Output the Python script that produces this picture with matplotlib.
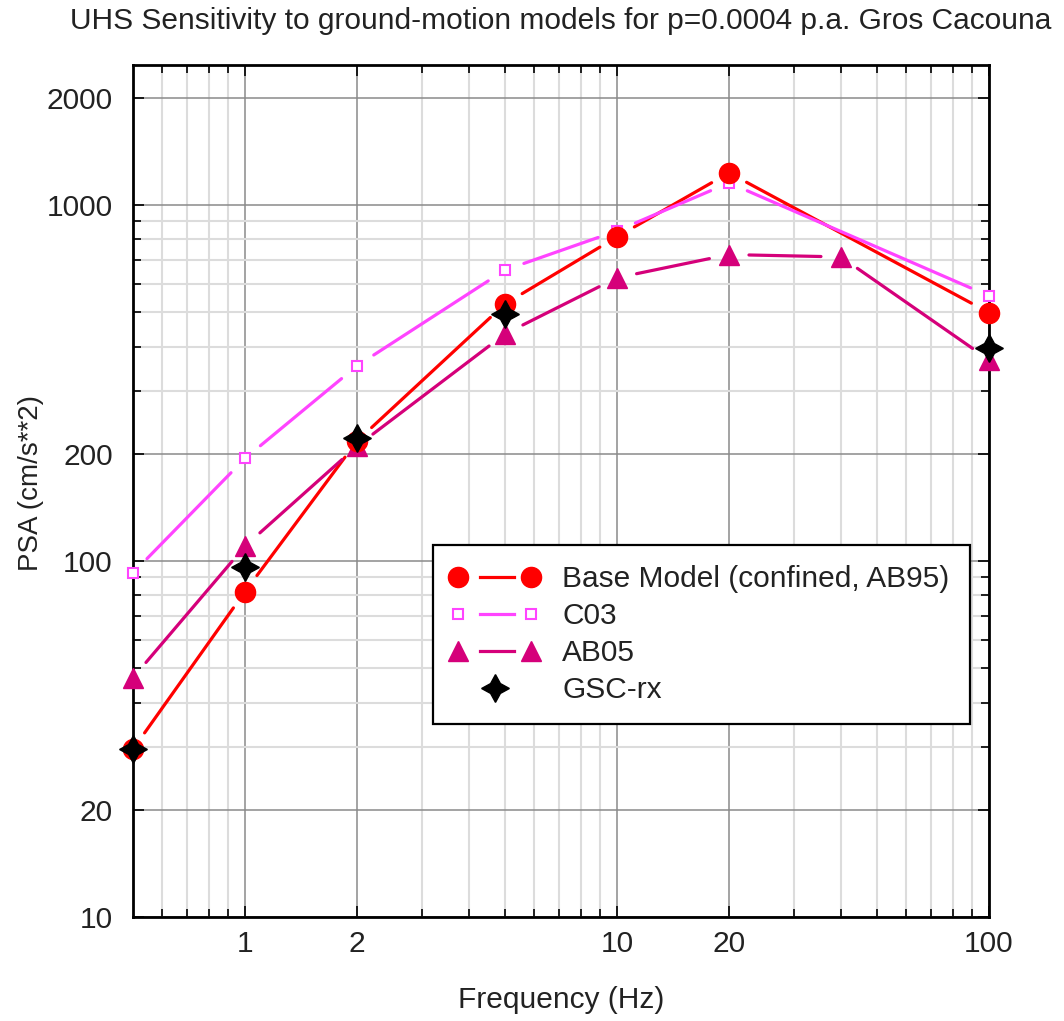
import numpy as np
import matplotlib
matplotlib.use("Agg")
import matplotlib.pyplot as plt
from matplotlib.lines import Line2D
from matplotlib.legend_handler import HandlerBase
from matplotlib.ticker import FixedLocator, NullFormatter, FixedFormatter

plt.rcParams['font.family'] = ['Liberation Sans', 'DejaVu Sans']

# ---------------- data ----------------
title = "UHS Sensitivity to ground-motion models for p=0.0004 p.a. Gros Cacouna"
xlabel = "Frequency (Hz)"
ylabel = "PSA (cm/s**2)"

base_f = [0.5, 1, 2, 5, 10, 20, 100]
base_v = [29.6, 82, 217, 527, 813, 1230, 498]

c03_f = [0.5, 1, 2, 5, 10, 20, 100]
c03_v = [92.5, 194, 353, 656, 845, 1153, 555]

ab05_f = [0.5, 1, 2, 5, 10, 20, 40, 100]
ab05_v = [47, 110, 210, 434, 624, 725, 714, 367]

gsc_f = [0.5, 1, 2, 5, 100]
gsc_v = [29.6, 96, 222, 494, 396]

labels = ["Base Model (confined, AB95)", "C03", "AB05", "GSC-rx"]

x_major = [1, 2, 10, 20, 100]
x_major_labels = ["1", "2", "10", "20", "100"]
x_minor = [0.6, 0.7, 0.8, 0.9, 3, 4, 5, 6, 7, 8, 9, 30, 40, 50, 60, 70, 80, 90]
y_major = [10, 20, 100, 200, 1000, 2000]
y_major_labels = ["10", "20", "100", "200", "1000", "2000"]
y_minor = [30, 40, 50, 60, 70, 80, 90, 300, 400, 500, 600, 700, 800, 900]

# ---------------- styles ----------------
RED = '#ff0000'
MAG = '#ff44ff'
PINK = '#d5007a'
FS = 21.5       # horizontal texts
FSY = 20        # vertical y label
LW = 2.3
GAP = 20        # pixels between marker centre and line end
TXT = '#222222'

W, H = 1064, 1021
fig = plt.figure(figsize=(W / 100, H / 100), dpi=100)
L, R, T, B = 133, 989, 65, 917
ax = fig.add_axes([L / W, 1 - B / H, (R - L) / W, (B - T) / H])
ax.set_xscale('log')
ax.set_yscale('log')
ax.set_xlim(0.5, 100)
ax.set_ylim(10, 2470)

ax.xaxis.set_major_locator(FixedLocator(x_major))
ax.xaxis.set_major_formatter(FixedFormatter(x_major_labels))
ax.xaxis.set_minor_locator(FixedLocator(x_minor))
ax.xaxis.set_minor_formatter(NullFormatter())
ax.yaxis.set_major_locator(FixedLocator(y_major))
ax.yaxis.set_major_formatter(FixedFormatter(y_major_labels))
ax.yaxis.set_minor_locator(FixedLocator(y_minor))
ax.yaxis.set_minor_formatter(NullFormatter())

ax.grid(True, which='major', color='#8a8a8a', lw=1.1, zorder=0)
ax.grid(True, which='minor', color='#dcdcdc', lw=1.5, zorder=0)
ax.set_axisbelow(True)
ax.tick_params(which='both', direction='in', top=True, right=True, colors='black',
               labelcolor=TXT, labelsize=FS)
ax.tick_params(which='major', length=8, width=1.2)
ax.tick_params(which='minor', length=6, width=1.2)
ax.tick_params(axis='x', which='major', pad=9)
ax.tick_params(axis='y', which='major', pad=14.5)
for s in ax.spines.values():
    s.set_linewidth(2)

ax.set_title(title, fontsize=FS, pad=26, color=TXT)
ax.set_xlabel(xlabel, fontsize=FS, color=TXT)
ax.xaxis.set_label_coords(0.5, -0.081)
ax.set_ylabel(ylabel, fontsize=FSY, color=TXT)
ax.yaxis.set_label_coords(-0.104, 0.509)


def gapped_line(xs, ys, color):
    pts = ax.transData.transform(np.column_stack([xs, ys]))
    inv = ax.transData.inverted()
    for p0, p1 in zip(pts[:-1], pts[1:]):
        d = p1 - p0
        n = np.hypot(*d)
        if n <= 2 * GAP:
            continue
        u = d / n
        a = inv.transform(p0 + u * GAP)
        b = inv.transform(p1 - u * GAP)
        ax.plot([a[0], b[0]], [a[1], b[1]], color=color, lw=LW,
                solid_capstyle='round', zorder=3)


fig.canvas.draw()
gapped_line(base_f, base_v, RED)
gapped_line(c03_f, c03_v, MAG)
gapped_line(ab05_f, ab05_v, PINK)

ax.plot(c03_f, c03_v, ls='none', marker='s', ms=7, mfc='white', mec=MAG, mew=1.5,
        zorder=4, clip_on=False)
ax.plot(ab05_f, ab05_v, ls='none', marker='^', ms=15, color=PINK, mec=PINK,
        zorder=4, clip_on=False)
ax.plot(base_f, base_v, ls='none', marker='o', ms=14.5, color=RED, mec=RED,
        zorder=5, clip_on=False)
ax.plot(gsc_f, gsc_v, ls='none', marker=(4, 1, 0), ms=20, color='black',
        zorder=6, clip_on=False)

PX = 0.72  # points per pixel


class GapHandler(HandlerBase):
    def __init__(self, color, marker, ms, mfc, mew=1.0, line=True):
        super().__init__()
        self.c, self.m, self.ms, self.mfc, self.mew, self.line = color, marker, ms, mfc, mew, line

    def create_artists(self, legend, orig_handle, xdescent, ydescent, width, height,
                       fontsize, trans):
        y = height / 2 - ydescent
        x0 = -xdescent + 5 * PX
        x1 = -xdescent + width - 5 * PX
        arts = []
        if self.line:
            ln = Line2D([x0 + 22 * PX, x1 - 17 * PX], [y, y], color=self.c, lw=LW)
            ln.set_transform(trans)
            arts.append(ln)
            mk = Line2D([x0, x1], [y, y], ls='none', marker=self.m, ms=self.ms,
                        mfc=self.mfc, mec=self.c, mew=self.mew)
        else:
            xm = (x0 + x1) / 2
            mk = Line2D([xm], [y], ls='none', marker=self.m, ms=self.ms,
                        mfc=self.mfc, mec=self.c, mew=self.mew)
        mk.set_transform(trans)
        arts.append(mk)
        return arts


h = [Line2D([], []) for _ in range(4)]
hmap = {
    h[0]: GapHandler(RED, 'o', 14.5, RED),
    h[1]: GapHandler(MAG, 's', 7, 'white', 1.5),
    h[2]: GapHandler(PINK, '^', 15, PINK),
    h[3]: GapHandler('black', (4, 1, 0), 20, 'black', line=False),
}
leg = fig.legend(h, labels, handler_map=hmap, loc='upper left',
                 bbox_to_anchor=(433 / W, 1 - 545 / H), fontsize=FS,
                 frameon=True, fancybox=False, edgecolor='black', framealpha=1,
                 handlelength=2.78, handletextpad=0.87, borderpad=0.68,
                 labelspacing=0.3, borderaxespad=0)
leg.get_frame().set_linewidth(1.6)
for t in leg.get_texts():
    t.set_color(TXT)

fig.savefig('out.png', dpi=100)
